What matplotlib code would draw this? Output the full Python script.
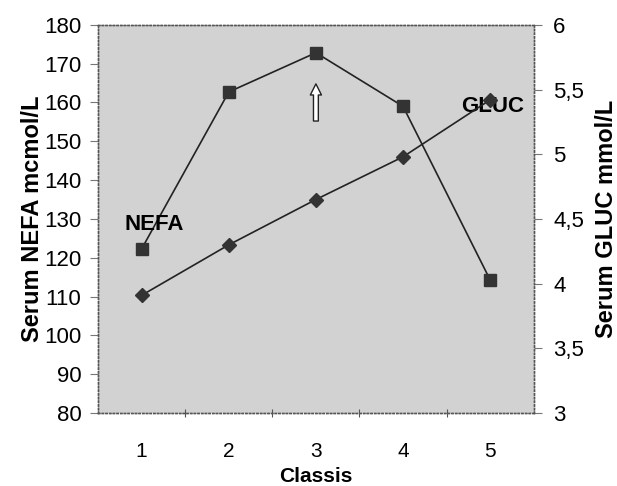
import matplotlib
matplotlib.use('Agg')
import matplotlib.pyplot as plt

plt.rcParams['font.family'] = ['Liberation Sans', 'DejaVu Sans']

classes = [1, 2, 3, 4, 5]
nefa = [122.3, 162.7, 172.8, 159.0, 114.3]
gluc = [3.91, 4.30, 4.65, 4.98, 5.42]

left_ticks = [80, 90, 100, 110, 120, 130, 140, 150, 160, 170, 180]
right_ticks = [3, 3.5, 4, 4.5, 5, 5.5, 6]
right_labels = ['3', '3,5', '4', '4,5', '5', '5,5', '6']

fig = plt.figure(figsize=(6.17, 4.86), dpi=100)
ax = fig.add_axes([0.159, 0.150, 0.706, 0.799])
ax.set_facecolor('#d2d2d2')

ax.plot(classes, nefa, color='#222222', lw=1.2, marker='s', ms=9,
        mfc='#333333', mec='#333333', zorder=3)
ax.set_ylim(80, 180)
ax.set_xlim(0.5, 5.5)
ax.set_yticks(left_ticks)
ax.set_yticklabels([str(t) for t in left_ticks], fontsize=16)
ax.set_xticks([1.5, 2.5, 3.5, 4.5], minor=False)
ax.set_xticklabels([])
ax.set_xticks(classes, minor=True)
ax.set_xticklabels([str(c) for c in classes], minor=True, fontsize=15)
ax.tick_params(axis='x', which='minor', length=0, pad=21)
ax.tick_params(axis='x', which='major', length=6, direction='inout', color='#555555')
ax.tick_params(axis='y', length=6, color='#777777', pad=6)
ax.set_ylabel('Serum NEFA mcmol/L', fontsize=17, fontweight='bold', labelpad=0)
ax.set_xlabel('Classis', fontsize=15, fontweight='bold', va='top')
ax.xaxis.set_label_coords(0.5, -0.14)

ax2 = ax.twinx()
ax2.plot(classes, gluc, color='#222222', lw=1.2, marker='D', ms=7,
         mfc='#333333', mec='#333333', zorder=3)
ax2.set_ylim(3, 6)
ax2.set_yticks(right_ticks)
ax2.set_yticklabels(right_labels, fontsize=16)
ax2.tick_params(axis='y', length=6, color='#777777', pad=8)
ax2.set_ylabel('Serum GLUC mmol/L', fontsize=17, fontweight='bold', labelpad=8)

for a in (ax, ax2):
    for s in a.spines.values():
        s.set_linestyle(':')
        s.set_color('#555555')
        s.set_linewidth(1.0)

ax.text(1.14, 128.5, 'NEFA', fontsize=16, fontweight='bold', ha='center', va='center', zorder=4)
ax.text(5.03, 158.9, 'GLUC', fontsize=16, fontweight='bold', ha='center', va='center', zorder=4)
ax.annotate('', xy=(3, 165.5), xytext=(3, 154.5),
            arrowprops=dict(arrowstyle='simple,head_length=0.8,head_width=0.8,tail_width=0.35',
                            fc='white', ec='#222222', lw=1.0))

fig.savefig('out.png', dpi=100)
